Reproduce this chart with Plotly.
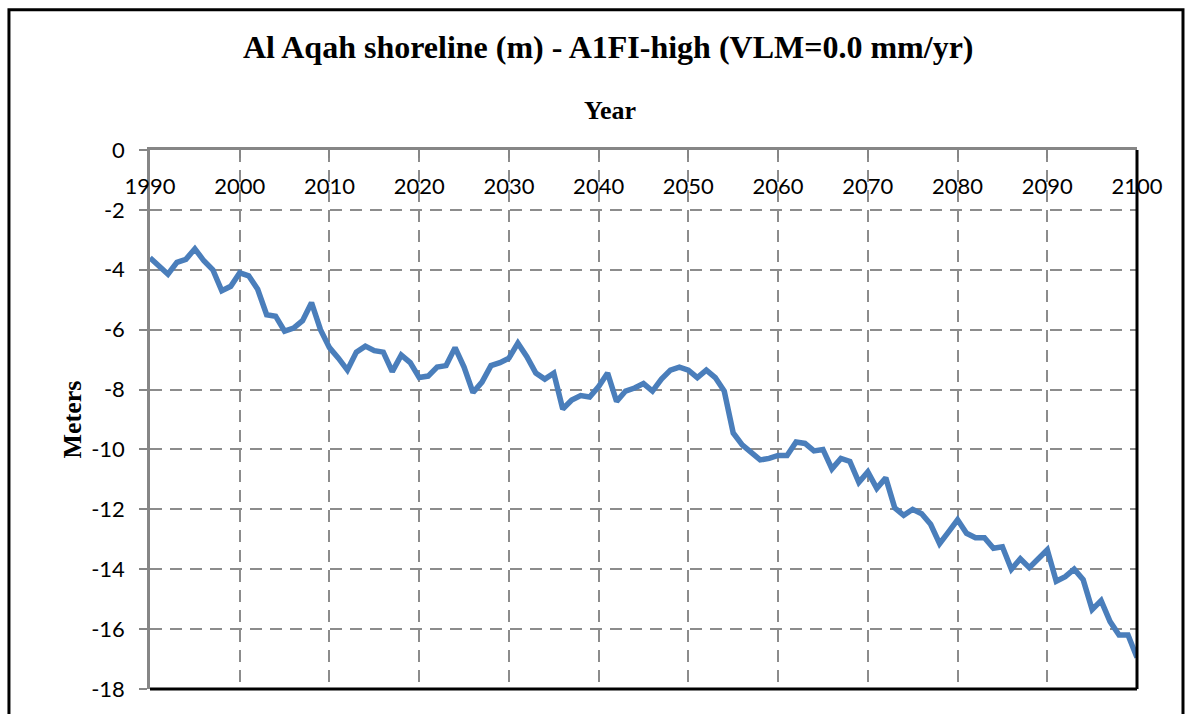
import plotly.graph_objects as go

# Annual shoreline position, Al Aqah, A1FI-high scenario (metres)
years = list(range(1990, 2101))
shoreline_m = [
    -3.6, -3.85, -4.15, -3.75, -3.65, -3.3, -3.7, -4.0, -4.7, -4.55,
    -4.1, -4.2, -4.65, -5.5, -5.55, -6.05, -5.95, -5.7, -5.1, -6.0,
    -6.6, -6.95, -7.35, -6.75, -6.55, -6.7, -6.75, -7.4, -6.85, -7.1,
    -7.6, -7.55, -7.25, -7.2, -6.6, -7.25, -8.1, -7.75, -7.2, -7.1,
    -6.95, -6.45, -6.9, -7.45, -7.65, -7.45, -8.65, -8.35, -8.2, -8.25,
    -7.9, -7.45, -8.4, -8.05, -7.95, -7.8, -8.05, -7.65, -7.35, -7.25,
    -7.35, -7.6, -7.35, -7.6, -8.05, -9.45, -9.85, -10.1, -10.35, -10.3,
    -10.2, -10.2, -9.75, -9.8, -10.05, -10.0, -10.65, -10.3, -10.4, -11.1,
    -10.75, -11.3, -10.95, -11.95, -12.2, -12.0, -12.15, -12.5, -13.15, -12.75,
    -12.35, -12.8, -12.95, -12.95, -13.3, -13.25, -14.0, -13.65, -13.95, -13.65,
    -13.35, -14.4, -14.25, -14.0, -14.35, -15.35, -15.05, -15.75, -16.2, -16.2,
    -16.95,
]

x_ticks = list(range(1990, 2101, 10))
x_tick_labels = [str(v) for v in x_ticks]
y_ticks = list(range(0, -19, -2))
y_tick_labels = [str(v) for v in y_ticks]

title_text = "Al Aqah shoreline (m) - A1FI-high (VLM=0.0 mm/yr)"
x_title = "Year"
y_title = "Meters"

serif = "Liberation Serif, Times New Roman, serif"
sans = "Lato, Carlito, Calibri, sans-serif"

fig = go.Figure()
fig.add_trace(go.Scatter(
    x=years, y=shoreline_m, mode="lines",
    line=dict(color="#4a7ebb", width=5.5),
    hoverinfo="x+y", showlegend=False,
))

fig.update_layout(
    width=1192, height=714,
    margin=dict(l=150, r=55, t=150, b=14),
    paper_bgcolor="white", plot_bgcolor="white",
    showlegend=False,
    xaxis=dict(
        range=[1990, 2100], side="top",
        tickvals=x_ticks, ticktext=x_tick_labels,
        ticklabelposition="inside", ticklabeloverflow="allow",
        ticklabelstandoff=22,
        ticks="inside", ticklen=8, tickwidth=1.5, tickcolor="#868686",
        showline=True, linecolor="#868686", linewidth=2.5,
        showgrid=True, gridcolor="#8c8c8c", gridwidth=2, griddash="12px,8px",
        zeroline=False,
        tickfont=dict(family=sans, size=22, color="black"),
    ),
    yaxis=dict(
        range=[-18, 0],
        tickvals=y_ticks, ticktext=y_tick_labels,
        ticklabeloverflow="allow",
        ticks="outside", ticklen=8, tickwidth=1.5, tickcolor="#868686",
        showline=True, linecolor="#868686", linewidth=2.5,
        showgrid=True, gridcolor="#8c8c8c", gridwidth=2, griddash="12px,8px",
        zeroline=False,
        ticklabelstandoff=10,
        tickfont=dict(family=sans, size=22, color="black"),
    ),
    annotations=[
        dict(text=title_text, xref="paper", yref="paper", x=0.465, y=1.192,
             showarrow=False, xanchor="center", yanchor="middle",
             font=dict(family=serif, size=32, color="black")),
        dict(text=x_title, xref="paper", yref="paper", x=0.466, y=1.0727,
             showarrow=False, xanchor="center", yanchor="middle",
             font=dict(family=serif, size=26, color="black")),
        dict(text=y_title, xref="paper", yref="paper", x=-0.079, y=0.5,
             textangle=-90, showarrow=False, xanchor="center", yanchor="middle",
             font=dict(family=serif, size=26, color="black")),
    ],
    shapes=[
        # plot-area right and bottom edges
        dict(type="line", xref="paper", yref="paper", x0=1, x1=1, y0=0, y1=1,
             line=dict(color="black", width=3)),
        dict(type="line", xref="paper", yref="paper", x0=0, x1=1, y0=0, y1=0,
             line=dict(color="black", width=3)),
        # outer chart frame
        dict(type="rect", xref="paper", yref="paper",
             x0=-0.1429, x1=1.0466, y0=-0.1, y1=1.2600,
             line=dict(color="black", width=3), layer="below"),
    ],
)

# bold titles
for ann in fig.layout.annotations:
    ann.text = "<b>" + ann.text + "</b>"

fig.write_html("out.html")
